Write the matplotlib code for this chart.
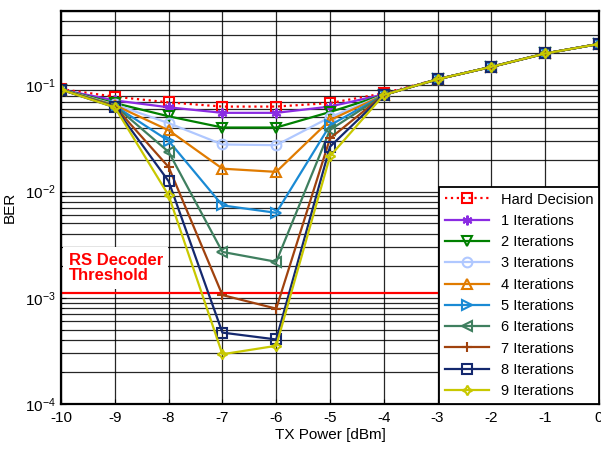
import numpy as np
import matplotlib.pyplot as plt
from matplotlib.ticker import LogLocator, NullFormatter

plt.rcParams['font.family'] = ['Liberation Sans', 'DejaVu Sans']
plt.rcParams['axes.unicode_minus'] = False

tx_power = [-10, -9, -8, -7, -6, -5, -4, -3, -2, -1, 0]

hard = [0.092, 0.078, 0.069, 0.063, 0.063, 0.068, 0.084, 0.114, 0.149, 0.199, 0.245]
it1 = [0.091, 0.072, 0.062, 0.055, 0.055, 0.063, 0.082, 0.114, 0.149, 0.199, 0.245]
it2 = [0.091, 0.068, 0.051, 0.040, 0.040, 0.056, 0.081, 0.114, 0.149, 0.199, 0.245]
it3 = [0.091, 0.066, 0.044, 0.0277, 0.0273, 0.050, 0.081, 0.114, 0.149, 0.199, 0.245]
it4 = [0.091, 0.065, 0.0377, 0.0164, 0.0153, 0.047, 0.081, 0.114, 0.149, 0.199, 0.245]
it5 = [0.091, 0.064, 0.030, 0.0074, 0.0063, 0.042, 0.081, 0.114, 0.149, 0.199, 0.245]
it6 = [0.091, 0.064, 0.0236, 0.0027, 0.00218, 0.038, 0.081, 0.114, 0.149, 0.199, 0.245]
it7 = [0.091, 0.063, 0.017, 0.00106, 0.00079, 0.0316, 0.081, 0.114, 0.149, 0.199, 0.245]
it8 = [0.091, 0.062, 0.0125, 0.00047, 0.000405, 0.0264, 0.081, 0.114, 0.149, 0.199, 0.245]
it9 = [0.091, 0.062, 0.0092, 0.000294, 0.000353, 0.0215, 0.081, 0.114, 0.149, 0.199, 0.245]

rs_threshold = 1.1e-3

series = [
    ('Hard Decision', hard, '#ff0000', 's', ':'),
    ('1 Iterations', it1, '#8a2be2', (6, 2, 0), '-'),
    ('2 Iterations', it2, '#008000', 'v', '-'),
    ('3 Iterations', it3, '#b0c8ff', 'o', '-'),
    ('4 Iterations', it4, '#e07b00', '^', '-'),
    ('5 Iterations', it5, '#1a8ad4', '>', '-'),
    ('6 Iterations', it6, '#3f7f5f', '<', '-'),
    ('7 Iterations', it7, '#a0420e', '+', '-'),
    ('8 Iterations', it8, '#14286e', 's', '-'),
    ('9 Iterations', it9, '#c8c800', (4, 1, 0), '-'),
]

fig = plt.figure(figsize=(6.01, 4.5), dpi=100)
ax = fig.add_axes([0.1015, 0.1022, 0.8952, 0.8734])

for name, vals, col, mk, ls in series:
    ax.semilogy(tx_power, vals, color=col, linestyle=ls, linewidth=1.6,
                marker=mk, markersize=7, markerfacecolor='none',
                markeredgecolor=col, markeredgewidth=1.5, label=name)

ax.axhline(rs_threshold, color='#ff0000', linewidth=1.6, zorder=1)

ax.set_xlim(-10, 0)
ax.set_ylim(1e-4, 0.5)
ax.set_xticks(tx_power)
ax.yaxis.set_major_locator(LogLocator(base=10, numticks=10))
ax.yaxis.set_minor_locator(LogLocator(base=10, subs=np.arange(2, 10), numticks=20))
ax.yaxis.set_minor_formatter(NullFormatter())
ax.grid(True, which='major', color='black', linewidth=0.9, alpha=0.85)
ax.grid(True, which='minor', axis='y', color='black', linewidth=0.9, alpha=0.85)
ax.set_axisbelow(True)
ax.tick_params(which='both', direction='in', labelsize=11)
ax.tick_params(axis='x', pad=5)
for sp in ax.spines.values():
    sp.set_linewidth(1.6)

ax.set_xlabel('TX Power [dBm]', fontsize=11, labelpad=2)
ax.set_ylabel('BER', fontsize=11, labelpad=6)

ax.text(0.014, 0.385, 'RS Decoder\nThreshold', transform=ax.transAxes,
        color='#ff0000', fontsize=12, fontweight='bold', va='top', ha='left',
        linespacing=1.05, zorder=5,
        bbox=dict(facecolor='white', edgecolor='none', pad=4))

leg = ax.legend(loc='lower right', fontsize=10.5, handlelength=3,
                borderaxespad=0, fancybox=False, framealpha=1,
                labelspacing=0.5, borderpad=0.4)
leg.get_frame().set_edgecolor('black')
leg.get_frame().set_linewidth(1.3)

fig.savefig('out.png', dpi=100)
